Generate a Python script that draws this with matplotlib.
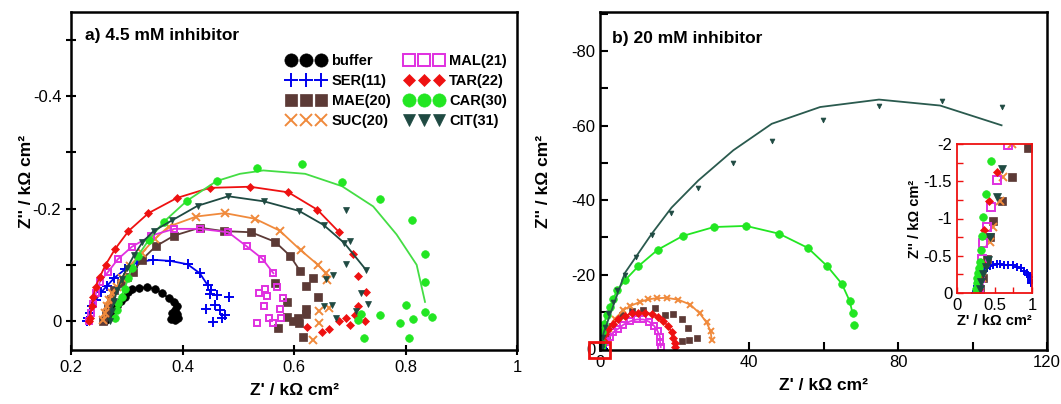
import numpy as np
import matplotlib.pyplot as plt
from matplotlib.ticker import MultipleLocator
from matplotlib.patches import Rectangle
from matplotlib.lines import Line2D

plt.rcParams['font.family'] = ['Liberation Sans', 'DejaVu Sans']

# ---------- panel a : 4.5 mM inhibitor (kOhm cm2) ----------
buf_ax = [0.262, 0.268, 0.275, 0.283, 0.290, 0.297, 0.303, 0.310, 0.322, 0.336, 0.351, 0.364,
          0.375, 0.384, 0.390, 0.387, 0.381, 0.390, 0.384, 0.387, 0.380, 0.392]
buf_ay = [-0.002, -0.010, -0.019, -0.027, -0.035, -0.043, -0.052, -0.057, -0.059, -0.060, -0.057, -0.049,
          -0.041, -0.033, -0.026, -0.020, -0.015, -0.013, -0.008, -0.002, -0.004, -0.006]
ser_ax = [0.228, 0.231, 0.234, 0.238, 0.244, 0.254, 0.264, 0.278, 0.297, 0.318, 0.347, 0.378, 0.409,
          0.431, 0.445, 0.452, 0.461, 0.449, 0.483, 0.458, 0.443, 0.467, 0.476, 0.455, 0.470]
ser_ay = [0.0, -0.005, -0.014, -0.026, -0.037, -0.051, -0.062, -0.077, -0.092, -0.104, -0.109, -0.107, -0.101,
          -0.085, -0.064, -0.055, -0.046, -0.048, -0.042, -0.029, -0.021, -0.020, -0.011, 0.001, -0.005]
mae_ax = [0.258, 0.262, 0.266, 0.271, 0.278, 0.290, 0.300, 0.312, 0.327, 0.352, 0.385, 0.431, 0.474, 0.523,
          0.566, 0.593, 0.611, 0.634, 0.622, 0.643, 0.566, 0.587, 0.622, 0.622, 0.608, 0.587, 0.598, 0.609,
          0.571, 0.616]
mae_ay = [0.0, -0.012, -0.025, -0.040, -0.055, -0.068, -0.078, -0.088, -0.109, -0.133, -0.152, -0.166, -0.160,
          -0.158, -0.141, -0.116, -0.089, -0.077, -0.062, -0.043, -0.067, -0.033, -0.021, -0.013, -0.006,
          -0.008, 0.0, 0.003, 0.013, 0.029]
suc_ax = [0.258, 0.261, 0.264, 0.268, 0.274, 0.282, 0.291, 0.305, 0.327, 0.350, 0.375, 0.425, 0.476, 0.530,
          0.574, 0.612, 0.643, 0.657, 0.660, 0.645, 0.662, 0.645, 0.634]
suc_ay = [-0.002, -0.014, -0.026, -0.037, -0.049, -0.061, -0.076, -0.098, -0.121, -0.146, -0.168, -0.186,
          -0.192, -0.182, -0.161, -0.126, -0.100, -0.085, -0.073, -0.018, -0.023, 0.004, 0.034]
mal_ax = [0.232, 0.236, 0.240, 0.245, 0.252, 0.267, 0.284, 0.309, 0.344, 0.385, 0.431, 0.482, 0.515, 0.543,
          0.563, 0.569, 0.548, 0.538, 0.552, 0.580, 0.546, 0.574, 0.556, 0.576, 0.533, 0.563]
mal_ay = [0.0, -0.015, -0.030, -0.050, -0.070, -0.088, -0.110, -0.132, -0.152, -0.164, -0.164, -0.158, -0.133,
          -0.111, -0.085, -0.060, -0.057, -0.049, -0.045, -0.041, -0.026, -0.021, -0.005, -0.005, 0.004, 0.004]
tar_ax = [0.232, 0.234, 0.237, 0.240, 0.244, 0.252, 0.262, 0.279, 0.303, 0.339, 0.390, 0.449, 0.521, 0.590,
          0.642, 0.681, 0.706, 0.714, 0.730, 0.715, 0.727, 0.709, 0.694, 0.680, 0.700, 0.663, 0.650, 0.623]
tar_ay = [0.0, -0.005, -0.026, -0.043, -0.061, -0.079, -0.100, -0.128, -0.160, -0.192, -0.219, -0.237, -0.239,
          -0.229, -0.198, -0.158, -0.119, -0.080, -0.052, -0.026, 0.0, -0.011, -0.005, 0.0, 0.007, 0.015,
          0.019, 0.011]
car_ax = [0.279, 0.282, 0.285, 0.291, 0.296, 0.303, 0.309, 0.320, 0.340, 0.367, 0.408, 0.461, 0.533, 0.614,
          0.686, 0.754, 0.811, 0.835, 0.835, 0.801, 0.835, 0.847, 0.814, 0.790, 0.755, 0.721, 0.715, 0.726, 0.807]
car_ay = [-0.005, -0.020, -0.032, -0.043, -0.057, -0.076, -0.094, -0.116, -0.145, -0.177, -0.214, -0.249,
          -0.273, -0.280, -0.247, -0.217, -0.179, -0.120, -0.070, -0.029, -0.016, -0.008, -0.003, 0.003,
          -0.011, -0.013, -0.002, 0.031, 0.031]
car_fit_ax = [0.279, 0.285, 0.296, 0.309, 0.320, 0.340, 0.367, 0.408, 0.461, 0.503, 0.545, 0.620, 0.686,
              0.742, 0.784, 0.820, 0.835]
car_fit_ay = [-0.005, -0.032, -0.057, -0.094, -0.116, -0.145, -0.177, -0.214, -0.249, -0.262, -0.268, -0.262,
              -0.240, -0.204, -0.154, -0.100, -0.034]
cit_ax = [0.270, 0.273, 0.277, 0.283, 0.291, 0.301, 0.313, 0.328, 0.348, 0.381, 0.427, 0.482, 0.546, 0.609,
          0.653, 0.690, 0.730, 0.693, 0.700, 0.694, 0.657, 0.670, 0.721, 0.732, 0.653, 0.669, 0.675, 0.712]
cit_ay = [0.0, -0.018, -0.036, -0.055, -0.075, -0.095, -0.117, -0.140, -0.160, -0.179, -0.205, -0.222, -0.213,
          -0.196, -0.171, -0.139, -0.090, -0.197, -0.143, -0.101, -0.075, -0.082, -0.049, -0.030, -0.027,
          -0.029, -0.006, -0.017]

# ---------- panel b : 20 mM inhibitor (kOhm cm2) ----------
ser_bx = [0.24, 0.25, 0.26, 0.27, 0.284, 0.30, 0.329, 0.36, 0.396, 0.44, 0.484, 0.53, 0.573, 0.63, 0.684,
          0.74, 0.796, 0.85, 0.893, 0.93, 0.951, 0.97, 0.982, 0.985, 0.982]
ser_by = [0.0, -0.03, -0.06, -0.10, -0.15, -0.20, -0.24, -0.29, -0.33, -0.36, -0.376, -0.385, -0.385, -0.38,
          -0.376, -0.37, -0.353, -0.33, -0.30, -0.27, -0.24, -0.21, -0.175, -0.15, -0.13]
mae_bx = [0.31, 0.35, 0.40, 0.44, 0.484, 0.596, 0.738, 0.951, 1.8, 3.2, 5.8, 8.5, 11.6, 14.8, 17.4, 19.7,
          21.9, 23.7, 26.0, 24.0, 21.9]
mae_by = [-0.05, -0.2, -0.45, -0.756, -0.97, -1.23, -1.56, -1.95, -3.8, -6.3, -9.1, -10.2, -10.6, -11.1, -9.3,
          -9.4, -8.0, -5.8, -3.0, -2.6, -2.2]
suc_bx = [0.30, 0.33, 0.37, 0.44, 0.484, 0.573, 0.618, 0.729, 1.5, 2.5, 4.0, 6.3, 8.1, 10.7, 13.0, 15.2,
          17.9, 21.0, 24.2, 26.8, 28.6, 29.7, 30.0]
suc_by = [-0.05, -0.2, -0.4, -0.69, -0.89, -1.23, -1.56, -2.0, -3.5, -5.5, -8.2, -10.5, -11.6, -12.7, -13.4,
          -13.7, -13.8, -13.3, -12.0, -9.6, -7.2, -4.8, -2.4]
mal_bx = [0.29, 0.31, 0.33, 0.351, 0.396, 0.449, 0.537, 0.684, 1.6, 2.6, 3.6, 4.9, 6.3, 8.1, 9.9, 11.6, 13.2,
          14.6, 15.5, 16.1, 16.1, 16.3]
mal_by = [-0.05, -0.2, -0.45, -0.667, -0.89, -1.16, -1.52, -1.98, -1.9, -3.3, -4.6, -5.5, -6.6, -7.5, -8.0,
          -8.0, -7.4, -6.2, -4.8, -3.3, -2.0, -0.6]
tar_bx = [0.29, 0.31, 0.33, 0.36, 0.431, 0.529, 0.9, 1.4, 2.2, 3.6, 4.9, 6.7, 8.5, 10.3, 12.1, 13.9, 15.6,
          17.0, 18.3, 19.2, 19.7, 20.1, 20.2]
tar_by = [-0.05, -0.2, -0.4, -0.85, -1.23, -1.63, -2.6, -4.0, -5.5, -6.9, -8.0, -8.9, -9.6, -9.8, -9.8, -9.5,
          -8.7, -7.5, -6.2, -4.6, -2.9, -1.6, -0.6]
car_bx = [0.25, 0.255, 0.262, 0.27, 0.284, 0.295, 0.307, 0.324, 0.337, 0.351, 0.383, 0.449, 0.5, 1.1, 1.8,
          2.7, 3.6, 4.6, 6.7, 10.3, 15.5, 22.2, 30.6, 39.2, 48.1, 55.8, 61.0, 64.9, 67.0, 67.8, 68.2]
car_by = [0.0, -0.05, -0.13, -0.2, -0.264, -0.34, -0.42, -0.577, -0.765, -1.02, -1.33, -1.77, -4.6, -6.9,
          -9.1, -11.3, -13.6, -15.8, -18.5, -22.3, -26.7, -30.4, -32.8, -33.1, -31.0, -27.2, -22.3, -17.6,
          -13.0, -9.7, -6.6]
cit_bx = [0.30, 0.32, 0.35, 0.38, 0.418, 0.44, 0.529, 0.596, 0.7, 1.3, 2.2, 3.4, 4.6, 6.7, 9.7, 13.9, 19.1,
          26.4, 35.6, 46.3, 59.8, 74.9, 91.7, 107.8]
cit_by = [-0.05, -0.15, -0.25, -0.35, -0.443, -0.756, -1.29, -1.67, -3.3, -6.0, -9.6, -12.7, -16.0, -19.8,
          -24.7, -30.6, -36.5, -43.4, -49.9, -56.0, -61.4, -65.2, -66.6, -65.0]
cit_fit_bx = [0.3, 0.9, 6.7, 13.9, 19.2, 26.4, 35.8, 46.1, 59.1, 74.9, 91.3, 107.8]
cit_fit_by = [0.0, -4.2, -20.5, -31.0, -38.0, -45.3, -53.4, -60.5, -65.0, -67.0, -65.4, -60.1]

names = ['buffer', 'SER(11)', 'MAE(20)', 'SUC(20)', 'MAL(21)', 'TAR(22)', 'CAR(30)', 'CIT(31)']
colors = ['#000000', '#0000ee', '#5c3a36', '#f08a3c', '#e030e0', '#ee1111', '#22e622', '#1f4a42']
markers = ['o', '+', 's', 'x', 's', 'D', 'o', 'v']
msize = [5.5, 6.5, 5.5, 5.5, 5, 3.8, 5.5, 4.5]
leg_ms = [9.5, 10, 8.5, 8.5, 8.5, 6.5, 9.5, 8.5]

data_a = [(buf_ax, buf_ay), (ser_ax, ser_ay), (mae_ax, mae_ay), (suc_ax, suc_ay),
          (mal_ax, mal_ay), (tar_ax, tar_ay), (car_ax, car_ay), (cit_ax, cit_ay)]
nfit_a = [15, 15, 17, 19, 15, 16, 0, 17]
data_b = [None, (ser_bx, ser_by), (mae_bx, mae_by), (suc_bx, suc_by),
          (mal_bx, mal_by), (tar_bx, tar_by), (car_bx, car_by), (cit_bx, cit_by)]
nfit_b = [0, 0, 0, len(suc_bx), len(mal_bx), len(tar_bx), len(car_bx) - 1, 0]


def style(i, ms):
    face = 'none' if names[i].startswith('MAL') else colors[i]
    mew = 1.4 if markers[i] in ['+', 'x'] or face == 'none' else 0.5
    return dict(ls='none', marker=markers[i], ms=ms, mfc=face, mec=colors[i], mew=mew)


def draw(ax, x, y, i, ms):
    return ax.plot(x, y, label=names[i], **style(i, ms))[0]


fig = plt.figure(figsize=(10.61, 4.04), dpi=100)
axa = fig.add_axes([71 / 1061, 1 - 350 / 404, 446 / 1061, 338 / 404])
axb = fig.add_axes([600 / 1061, 1 - 350 / 404, 447 / 1061, 338 / 404])
ins = fig.add_axes([957 / 1061, 1 - 293 / 404, 75 / 1061, 149 / 404])

# panel a
for i, (x, y) in enumerate(data_a):
    n = nfit_a[i]
    if n:
        axa.plot(x[:n], y[:n], '-', color=colors[i], lw=1.3)
    if names[i].startswith('CAR'):
        axa.plot(car_fit_ax, car_fit_ay, '-', color='#44dd44', lw=1.3)
    draw(axa, x, y, i, msize[i])

axa.set_xlim(0.2, 1.0)
axa.set_ylim(0.0516, -0.55)
axa.set_xticks([0.2, 0.4, 0.6, 0.8, 1.0], ['0.2', '0.4', '0.6', '0.8', '1'])
axa.set_yticks([0, -0.2, -0.4], ['0', '-0.2', '-0.4'])
axa.yaxis.set_minor_locator(MultipleLocator(0.1))
axa.tick_params(which='both', direction='inout', labelsize=12, width=1.5, length=7)
axa.set_xlabel("Z' / k\u03a9 cm\u00b2", fontsize=12.5, fontweight='bold', labelpad=6)
axa.set_ylabel("Z'' / k\u03a9 cm\u00b2", fontsize=12.5, fontweight='bold')
axa.yaxis.set_label_coords(-0.082, 0.5)
axa.text(0.031, 0.929, 'a) 4.5 mM inhibitor', transform=axa.transAxes, fontsize=12.5,
         fontweight='bold', va='center')
handles = [Line2D([], [], label=names[i], **style(i, leg_ms[i])) for i in range(len(names))]
axa.legend(handles=handles, ncol=2, loc='upper left', bbox_to_anchor=(0.455, 0.914), frameon=False,
           numpoints=3, handlelength=2.65, handletextpad=0.4, columnspacing=1.0,
           labelspacing=0.4, prop={'weight': 'bold', 'size': 10.5})

# panel b
for i, d in enumerate(data_b):
    if d is None:
        continue
    x, y = d
    n = nfit_b[i]
    if n:
        axb.plot(x[:n], y[:n], '-', color=colors[i], lw=1.3)
    if names[i].startswith('CIT'):
        axb.plot(cit_fit_bx, cit_fit_by, '-', color='#2a5a4e', lw=1.3)
    ms = {'CIT(31)': 3.5, 'CAR(30)': 5.5}.get(names[i], 4.5)
    draw(axb, x, y, i, ms)

axb.set_xlim(0, 120)
axb.set_ylim(0.2, -90.5)
axb.set_xticks([0, 40, 80, 120], ['0', '40', '80', '120'])
axb.set_yticks([0, -20, -40, -60, -80], ['0', '-20', '-40', '-60', '-80'])
axb.xaxis.set_minor_locator(MultipleLocator(20))
axb.yaxis.set_minor_locator(MultipleLocator(10))
axb.tick_params(which='both', direction='in', labelsize=12, width=1.5, length=6)
axb.set_xlabel("Z' / k\u03a9 cm\u00b2", fontsize=12.5, fontweight='bold', labelpad=6)
axb.set_ylabel("Z'' / k\u03a9 cm\u00b2", fontsize=12.5, fontweight='bold')
axb.yaxis.set_label_coords(-0.11, 0.5)
axb.text(0.027, 0.923, 'b) 20 mM inhibitor', transform=axb.transAxes, fontsize=12.5,
         fontweight='bold', va='center')
axb.add_patch(Rectangle((-2.9, -1.9), 5.6, 4.3, fill=False, ec='#ee1111', lw=2, clip_on=False, zorder=5))

# inset
for i, d in enumerate(data_b):
    if d is None:
        continue
    x, y = d
    draw(ins, x, y, i, 5.5 if markers[i] != 'D' else 4)
ins.set_xlim(0, 1)
ins.set_ylim(0, -2)
ins.set_xticks([0, 0.5, 1], ['0', '0.5', '1'])
ins.set_yticks([0, -0.5, -1, -1.5, -2], ['0', '-0.5', '-1', '-1.5', '-2'])
ins.yaxis.set_minor_locator(MultipleLocator(0.25))
ins.xaxis.set_minor_locator(MultipleLocator(0.25))
ins.tick_params(which='both', direction='in', labelsize=12, color='#ee1111', length=4, width=1)
for s in ins.spines.values():
    s.set_color('#ee1111')
    s.set_linewidth(1.3)
ins.set_xlabel("Z' / k\u03a9 cm\u00b2", fontsize=10.5, fontweight='bold', labelpad=1)
ins.set_ylabel("Z'' / k\u03a9 cm\u00b2", fontsize=10.5, fontweight='bold', labelpad=1)

for ax in (axa, axb):
    for s in ax.spines.values():
        s.set_linewidth(1.8)

fig.savefig('out.png', dpi=100)
